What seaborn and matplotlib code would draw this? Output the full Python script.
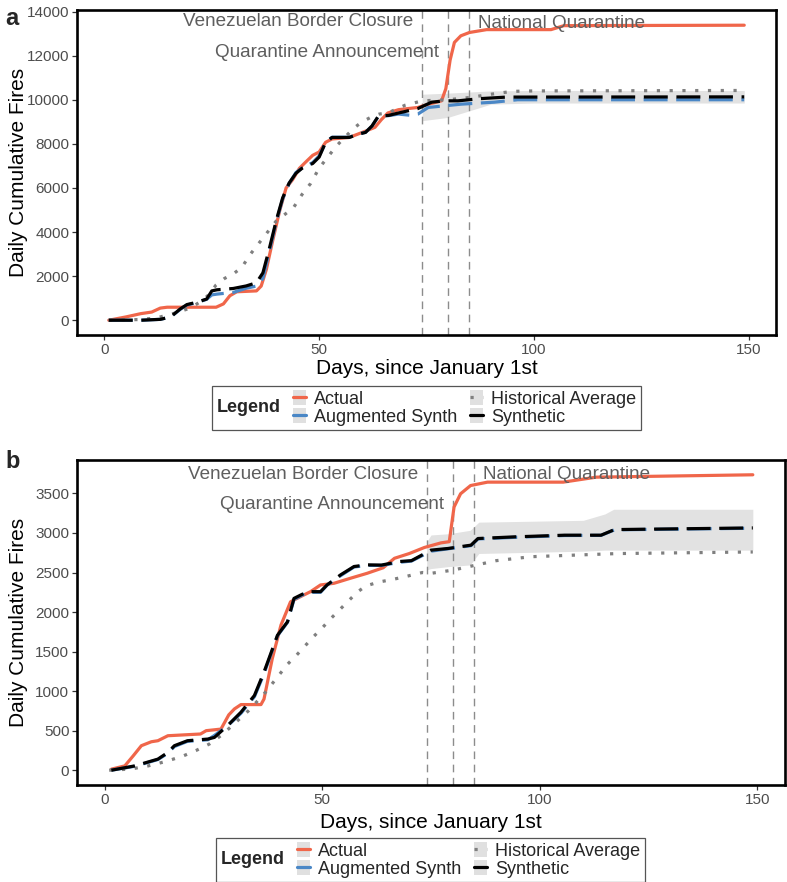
import numpy as np
import pandas as pd
import matplotlib
matplotlib.use("Agg")
import matplotlib.pyplot as plt
import seaborn as sns
from matplotlib.lines import Line2D
from matplotlib.patches import Rectangle
from matplotlib.legend_handler import HandlerTuple
from matplotlib.offsetbox import HPacker

# ---------------- data ----------------
series_labels = ["Actual", "Augmented Synth", "Historical Average", "Synthetic"]
event_days = [74, 80, 85]
event_labels = ["Venezuelan Border Closure", "Quarantine Announcement", "National Quarantine"]
x_ticks = [0, 50, 100, 150]
a_yticks = [0, 2000, 4000, 6000, 8000, 10000, 12000, 14000]
b_yticks = [0, 500, 1000, 1500, 2000, 2500, 3000, 3500]

# Panel a
a_actual_day = [1, 5, 8.5, 11, 13, 14.6, 19, 26, 27.7, 29.2, 30.8, 35.4, 36.5, 37.7, 39.2, 40.8, 42.3,
                43.8, 45.4, 46.9, 48.5, 50, 51.5, 53, 57, 61, 63, 64.5, 66, 68.5, 73, 75.5, 78.5,
                79.5, 80.5, 81.5, 83, 85, 89, 104, 107, 149]
a_actual = [0, 150, 300, 370, 550, 590, 590, 590, 740, 1110, 1290, 1330, 1550, 2300, 3630, 4960, 6000,
            6370, 6890, 7180, 7480, 7630, 8070, 8220, 8290, 8590, 8750, 9100, 9400, 9550, 9650, 9800, 9950,
            10500, 11800, 12600, 12900, 13050, 13180, 13180, 13360, 13380]

a_synth_day = [1, 8.5, 13, 15.4, 17.7, 19.2, 21.5, 23.8, 25, 26.2, 30, 33, 35.4, 36.9, 38.5, 40, 41.5,
               43, 44.6, 46, 48.5, 50, 51.5, 53, 57, 59.2, 60.8, 62.3, 63.8, 66.2, 68.5, 73, 76.2,
               79.2, 82.3, 87.5, 93.6, 149]
a_synth = [0, 0, 40, 150, 520, 710, 815, 960, 1330, 1380, 1440, 1555, 1700, 2150, 3330, 4520, 5550,
           6220, 6665, 6890, 7110, 7400, 8070, 8290, 8290, 8440, 8520, 8810, 9260, 9290, 9400, 9600, 9890,
           9950, 9950, 10050, 10120, 10130]

a_aug_day = [1, 8.5, 13, 15.4, 17.7, 19.2, 21.5, 23.8, 25, 26.2, 30, 33, 35.4, 36.9, 38.5, 40, 41.5,
             43, 44.6, 46, 48.5, 50, 51.5, 53, 57, 59.2, 60.8, 62.3, 63.8, 66.2, 68.5, 71, 73, 75.4,
             83.1, 90.8, 96.2, 149]
a_aug = [0, 0, 40, 150, 500, 690, 800, 950, 1150, 1185, 1260, 1450, 1550, 1900, 3200, 4450, 5500,
         6200, 6700, 6900, 7150, 7450, 8050, 8300, 8300, 8450, 8520, 8800, 9250, 9280, 9350, 9300, 9350, 9650,
         9800, 9890, 10000, 10000]

a_hist_day = [1, 8, 12, 16, 20, 22, 24, 26, 28, 30, 32, 34, 36, 38, 40, 42, 44, 46, 48, 50, 52, 54,
              56, 58, 60, 62, 64, 66, 70, 74, 80, 85, 90, 95, 100, 149]
a_hist = [0, 30, 100, 300, 550, 800, 1100, 1600, 1900, 2100, 2400, 3000, 3500, 4000, 4500, 4800, 5100,
          5700, 6200, 6900, 7400, 7900, 8300, 8700, 9000, 9200, 9350, 9400, 9750, 9950, 10000, 10100,
          10250, 10380, 10400, 10420]

a_band_day = [74, 80, 85, 90, 100, 149]
a_band_lo = [9050, 9200, 9500, 9800, 9850, 9850]
a_band_hi = [10250, 10300, 10350, 10400, 10420, 10420]

a_text_y = [13560, 12135, 13480]

# Panel b
b_actual_day = [1.5, 4.6, 6.5, 8.4, 10.7, 12.2, 14.5, 22, 23.3, 26.7, 28.5, 29.8, 31.3, 35.9, 36.6, 38.5,
                40.5, 42.7, 45, 47.3, 49.6, 52.7, 56.5, 60.3, 64, 66.6, 70, 73.5, 77.3, 79.2, 80.3, 81.8,
                84.1, 88, 105.4, 113, 149]
b_actual = [13, 55, 180, 310, 360, 373, 436, 458, 500, 520, 700, 775, 830, 830, 900, 1410,
            1835, 2130, 2195, 2258, 2343, 2364, 2428, 2490, 2560, 2680, 2740, 2817, 2875, 2890, 3328, 3496,
            3600, 3643, 3643, 3706, 3736]

b_synth_day = [1.5, 6.9, 12.2, 14.5, 16, 19, 23.7, 25.2, 28.2, 31.3, 34.4, 36.6, 39.7, 42, 43.5, 46.6,
               49.6, 51.1, 54.2, 57.3, 60.3, 63.6, 67.9, 70.5, 75, 78.9, 84.2, 85.8, 94.2, 105.7, 114.1,
               117.2, 149]
b_synth = [0, 55, 140, 225, 310, 373, 394, 415, 563, 733, 945, 1241, 1707, 1877, 2173, 2258,
           2258, 2343, 2470, 2576, 2597, 2594, 2640, 2650, 2783, 2804, 2846, 2930, 2951, 2972, 2972,
           3043, 3064]

b_aug_day = [1.5, 6.9, 12.2, 14.5, 16, 19, 23.7, 25.2, 28.2, 31.3, 34.4, 36.6, 39.7, 42, 43.5, 46.6,
             49.6, 51.1, 54.2, 57.3, 60.3, 63.6, 67.9, 70.5, 75, 78.9, 84.2, 85.8, 94.2, 105.7, 114.1,
             117.2, 149]
b_aug = [0, 50, 135, 215, 300, 365, 385, 440, 560, 720, 930, 1220, 1700, 1870, 2160, 2250,
         2250, 2340, 2460, 2570, 2590, 2590, 2630, 2645, 2770, 2800, 2840, 2925, 2945, 2968, 2970,
         3040, 3060]

b_hist_day = [1, 6, 10, 14, 18, 21, 24, 27, 30, 33, 35, 37, 40, 42, 44, 46, 48, 50, 52, 54, 56, 58,
              60, 63, 66, 70, 73, 75, 80, 85, 90, 98, 118, 149]
b_hist = [0, 15, 55, 110, 180, 250, 330, 450, 600, 750, 870, 990, 1200, 1340, 1450, 1570, 1690, 1800,
          1920, 2030, 2140, 2250, 2330, 2380, 2410, 2460, 2500, 2490, 2530, 2590, 2650, 2700, 2740, 2760]

b_band_day = [74, 75, 79, 84, 86, 110, 115, 117, 149]
b_band_lo = [2533, 2550, 2575, 2596, 2741, 2770, 2783, 2783, 2783]
b_band_hi = [2887, 2975, 2990, 3034, 3137, 3160, 3241, 3300, 3300]

b_text_y = [3741, 3366, 3741]

# ---------------- style ----------------
sns.set_theme(style="white")
plt.rcParams["font.family"] = ["Liberation Sans", "DejaVu Sans"]

RED = "#F0664A"
BLUE = "#4A87C6"
BLACK = "#000000"
GREY = "#7F7F7F"
BAND = "#E2E2E2"
LONGDASH = (7.5, 2.7)
DOTTED = (1, 3)
LW = 2.3

W, H = 787, 882
fig = plt.figure(figsize=(W / 100, H / 100), dpi=100)
ax_a = fig.add_axes([77 / W, 1 - 335 / H, (776 - 77) / W, 325 / H])
ax_b = fig.add_axes([77 / W, 1 - 785 / H, (785 - 77) / W, 325 / H])


def draw_panel(ax, act_d, act, aug_d, aug, hist_d, hist, syn_d, syn, band_d, lo, hi,
               yticks, ylim, text_y, xlab_y, ylab_x):
    ax.fill_between(band_d, lo, hi, color=BAND, lw=0, zorder=1)
    for d in event_days:
        ax.axvline(d, color="#8C8C8C", lw=1.0, dashes=(5.5, 4), zorder=2)
    sns.lineplot(x=act_d, y=act, ax=ax, color=RED, lw=LW, estimator=None, zorder=3)
    sns.lineplot(x=aug_d, y=aug, ax=ax, color=BLUE, lw=LW, estimator=None, zorder=4)
    ax.lines[-1].set_dashes(LONGDASH)
    sns.lineplot(x=hist_d, y=hist, ax=ax, color=GREY, lw=LW, estimator=None, zorder=5)
    ax.lines[-1].set_dashes(DOTTED)
    sns.lineplot(x=syn_d, y=syn, ax=ax, color=BLACK, lw=LW, estimator=None, zorder=6)
    ax.lines[-1].set_dashes(LONGDASH)
    ax.lines[-1].set_dash_capstyle("butt")

    tc = "#5E5E5E"
    ax.text(event_days[0] - 2, text_y[0], event_labels[0], ha="right", va="center",
            fontsize=13.6, color=tc, zorder=7)
    ax.text(event_days[1] - 2, text_y[1], event_labels[1], ha="right", va="center",
            fontsize=13.6, color=tc, zorder=7)
    ax.text(event_days[2] + 2, text_y[2], event_labels[2], ha="left", va="center",
            fontsize=13.6, color=tc, zorder=7)

    ax.set_xlim(-6.4, 156.4)
    ax.set_ylim(*ylim)
    ax.set_xticks(x_ticks)
    ax.set_yticks(yticks)
    ax.tick_params(direction="out", length=3.5, width=0.9, color="#333333",
                   labelsize=11, labelcolor="#4D4D4D", pad=2, bottom=True, left=True)
    for s in ax.spines.values():
        s.set_color("black")
        s.set_linewidth(1.9)
    ax.set_xlabel("Days, since January 1st", fontsize=15, color="black")
    ax.set_ylabel("Daily Cumulative Fires", fontsize=15, color="black")
    ax.xaxis.label.set_va("center")
    ax.yaxis.label.set_va("center")
    ax.xaxis.set_label_coords(0.5, xlab_y)
    ax.yaxis.set_label_coords(ylab_x, 0.5)
    ax.grid(False)


draw_panel(ax_a, a_actual_day, a_actual, a_aug_day, a_aug, a_hist_day, a_hist, a_synth_day, a_synth,
           a_band_day, a_band_lo, a_band_hi, a_yticks, (-670, 14070), a_text_y,
           -(369 - 335) / 325, -(77 - 19) / 699)
draw_panel(ax_b, b_actual_day, b_actual, b_aug_day, b_aug, b_hist_day, b_hist, b_synth_day, b_synth,
           b_band_day, b_band_lo, b_band_hi, b_yticks, (-187, 3923), b_text_y,
           -(822 - 785) / 325, -(77 - 19) / 708)


def make_legend(ax, cx, cy):
    def key(color, dashes):
        bg = Rectangle((0, 0), 1, 1, facecolor="#E0E0E0", edgecolor="none")
        ln = Line2D([0], [0], color=color, lw=LW)
        if dashes is not None:
            ln.set_dashes(dashes)
        return (bg, ln)

    handles = [key(RED, None), key(BLUE, None), key(GREY, (1, 3)), key(BLACK, None)]
    leg = ax.legend(handles, series_labels, ncol=2, loc="center",
                    bbox_to_anchor=(cx / W, 1 - cy / H), bbox_transform=fig.transFigure,
                    handler_map={tuple: HandlerTuple(ndivide=1)},
                    fontsize=13, title="Legend", title_fontproperties={"weight": "bold", "size": 13},
                    frameon=True, fancybox=False, framealpha=1, edgecolor="#555555",
                    handlelength=0.7, handleheight=0.9, handletextpad=0.45, columnspacing=0.7,
                    labelspacing=0.0, borderpad=0.25, borderaxespad=0)
    leg.get_frame().set_linewidth(0.9)
    old = leg._legend_box
    new = HPacker(pad=old.pad, sep=9, align="center",
                  children=[leg._legend_title_box, leg._legend_handle_box])
    new.set_figure(fig)
    new.axes = ax
    new.set_offset(leg._findoffset)
    leg._legend_box = new
    return leg


make_legend(ax_a, 426.5, 408)
make_legend(ax_b, 430.5, 860)

fig.text(5 / W, 1 - 25 / H, "a", fontsize=17, fontweight="bold", ha="left", va="baseline")
fig.text(5 / W, 1 - 468 / H, "b", fontsize=17, fontweight="bold", ha="left", va="baseline")

fig.savefig("out.png", dpi=100)
